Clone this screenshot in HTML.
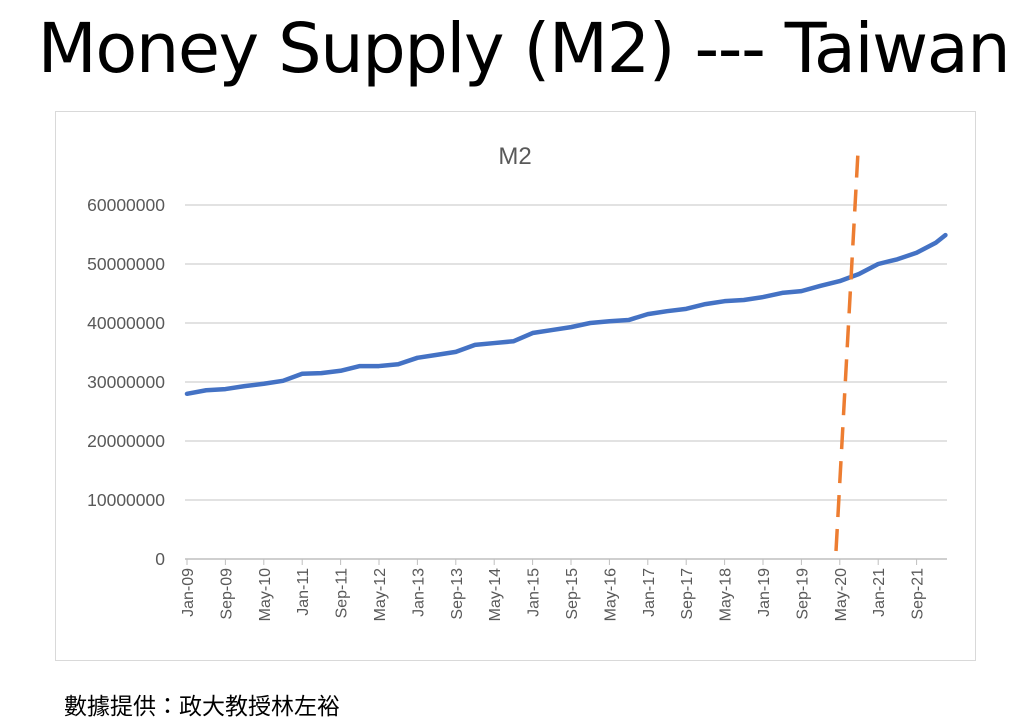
<!DOCTYPE html>
<html><head><meta charset="utf-8"><style>
body{margin:0;background:#fff;width:1020px;height:728px;overflow:hidden;font-family:"Liberation Sans","Noto Sans CJK TC",sans-serif}
#title{position:absolute;left:0;top:9px;width:1047px;text-align:center;font-size:68.5px;color:#000;white-space:nowrap;font-family:"DejaVu Sans","Liberation Sans",sans-serif;letter-spacing:-1.4px}
#foot{position:absolute;left:64px;top:687px;font-size:23px;color:#000}
svg{position:absolute;left:0;top:0}
</style></head><body>
<div id="title">Money Supply (M2) --- Taiwan</div>
<svg id="c" width="1020" height="728"></svg>
<div id="foot">數據提供：政大教授林左裕</div>
<script>
const months=[0,4,8,12,16,20,24,28,32,36,40,44,48,52,56,60,64,68,72,76,80,84,88,92,96,100,104,108,112,116,120,124,128,132,136,140,144,148,152,156,158];
const values=[28.0,28.6,28.8,29.3,29.7,30.2,31.4,31.5,31.9,32.7,32.7,33.0,34.1,34.6,35.1,36.3,36.6,36.9,38.3,38.8,39.3,40.0,40.3,40.5,41.5,42.0,42.4,43.2,43.7,43.9,44.4,45.1,45.4,46.3,47.1,48.3,50.0,50.8,51.9,53.6,54.9];
const yTicks=[0,10000000,20000000,30000000,40000000,50000000,60000000];
const xLabels=["Jan-09","Sep-09","May-10","Jan-11","Sep-11","May-12","Jan-13","Sep-13","May-14","Jan-15","Sep-15","May-16","Jan-17","Sep-17","May-18","Jan-19","Sep-19","May-20","Jan-21","Sep-21"];
const NS="http://www.w3.org/2000/svg";
const svg=document.getElementById('c');
const X=m=>187+m*4.8;
const Y=v=>559-v/1e6*5.9;
function mk(t,a){const e=document.createElementNS(NS,t);for(const k in a)e.setAttribute(k,a[k]);svg.appendChild(e);return e;}
const box=mk('rect',{x:55.5,y:111.5,width:920,height:549,fill:'#fff',stroke:'#d9d9d9'});


const ct=mk('text',{x:515,y:164,'font-size':24,fill:'#595959','text-anchor':'middle'});ct.textContent='M2';


yTicks.forEach(v=>{
 const y=Y(v);
 const g=mk('line',{x1:185,x2:947,y1:y,y2:y,stroke:v===0?'#bfbfbf':'#d9d9d9','stroke-width':1.5});
 
 
 const t=mk('text',{x:165,y:y+6,'font-size':17.5,fill:'#595959','text-anchor':'end'});t.textContent=v;
 
 
});
xLabels.forEach((l,i)=>{
 const x=X(i*8);
 const tk=mk('line',{x1:x,x2:x,y1:559,y2:565,stroke:'#bfbfbf'});
 
 
 const t=mk('text',{x:0,y:0,'font-size':16,fill:'#595959','text-anchor':'end',transform:`translate(${x+6},568) rotate(-90)`});t.textContent=l;
 
 
});
const p=mk('polyline',{points:months.map((m,i)=>X(m)+','+Y(values[i]*1e6)).join(' '),fill:'none',stroke:'#4472c4','stroke-width':4.5,'stroke-linejoin':'round','stroke-linecap':'round'});


const d=mk('line',{x1:836,y1:551,x2:858,y2:152,stroke:'#ed7d31','stroke-width':3.5,'stroke-dasharray':'22,12'});


</script>
</body></html>
